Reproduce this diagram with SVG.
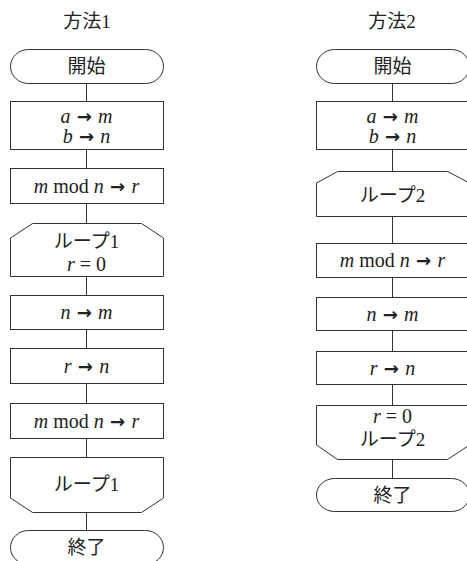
<svg xmlns="http://www.w3.org/2000/svg" width="467" height="561" viewBox="0 0 467 561">
<style>
.s{fill:#fff;stroke:#333;stroke-width:1}
.c line{stroke:#333;stroke-width:1}
text{font-family:"Liberation Serif","Noto Sans CJK JP",serif;font-size:19px;fill:#222;text-anchor:middle}
.m{font-size:20px}
.v{font-style:italic}
.a{font-family:"DejaVu Sans",sans-serif;font-size:18px;font-weight:bold}
</style>
<rect width="467" height="561" fill="#fff"/>
<g class="c" id="connectors">
<line x1="86.5" y1="84" x2="86.5" y2="101"/>
<line x1="86.5" y1="150" x2="86.5" y2="168"/>
<line x1="86.5" y1="204" x2="86.5" y2="223"/>
<line x1="86.5" y1="277" x2="86.5" y2="295"/>
<line x1="86.5" y1="330" x2="86.5" y2="348"/>
<line x1="86.5" y1="384" x2="86.5" y2="403"/>
<line x1="86.5" y1="439" x2="86.5" y2="457"/>
<line x1="86.5" y1="512" x2="86.5" y2="530"/>
<line x1="392.5" y1="84" x2="392.5" y2="101"/>
<line x1="392.5" y1="150" x2="392.5" y2="171"/>
<line x1="392.5" y1="217" x2="392.5" y2="243"/>
<line x1="392.5" y1="278" x2="392.5" y2="297"/>
<line x1="392.5" y1="331" x2="392.5" y2="351"/>
<line x1="392.5" y1="385" x2="392.5" y2="405"/>
<line x1="392.5" y1="460" x2="392.5" y2="478"/>
</g>
<g id="title1"><text x="87" y="28">方法1</text></g>
<g id="title2"><text x="392" y="28">方法2</text></g>

<g id="L_start"><rect class="s" x="10.5" y="49.5" width="153" height="34" rx="18" ry="17"/><text x="86.5" y="73">開始</text></g>
<g id="L_init"><rect class="s" x="10.5" y="101.5" width="153" height="48"/>
<text class="m" x="86.5" y="123"><tspan class="v">a</tspan><tspan class="a"> → </tspan><tspan class="v">m</tspan></text>
<text class="m" x="86.5" y="143"><tspan class="v">b</tspan><tspan class="a"> → </tspan><tspan class="v">n</tspan></text></g>
<g id="L_mod1"><rect class="s" x="10.5" y="168.5" width="153" height="35"/>
<text class="m" x="86.5" y="193"><tspan class="v">m</tspan> mod <tspan class="v">n</tspan><tspan class="a"> → </tspan><tspan class="v">r</tspan></text></g>
<g id="L_loopStart"><polygon class="s" points="10.5,238 32.5,223.5 141.5,223.5 163.5,238 163.5,276.5 10.5,276.5"/>
<text x="86.5" y="248">ループ1</text>
<text class="m" x="86.5" y="271"><tspan class="v">r</tspan> = 0</text></g>
<g id="L_nm"><rect class="s" x="10.5" y="295.5" width="153" height="34"/>
<text class="m" x="86.5" y="319"><tspan class="v">n</tspan><tspan class="a"> → </tspan><tspan class="v">m</tspan></text></g>
<g id="L_rn"><rect class="s" x="10.5" y="348.5" width="153" height="35"/>
<text class="m" x="86.5" y="373"><tspan class="v">r</tspan><tspan class="a"> → </tspan><tspan class="v">n</tspan></text></g>
<g id="L_mod2"><rect class="s" x="10.5" y="403.5" width="153" height="35"/>
<text class="m" x="86.5" y="428"><tspan class="v">m</tspan> mod <tspan class="v">n</tspan><tspan class="a"> → </tspan><tspan class="v">r</tspan></text></g>
<g id="L_loopEnd"><polygon class="s" points="10.5,457.5 163.5,457.5 163.5,498 141.5,512.5 32.5,512.5 10.5,498"/>
<text x="86.5" y="491">ループ1</text></g>
<g id="L_end"><rect class="s" x="10.5" y="530.5" width="153" height="34" rx="18" ry="17"/><text x="86.5" y="554">終了</text></g>

<g id="R_start"><rect class="s" x="316.5" y="49.5" width="153" height="34" rx="18" ry="17"/><text x="392.5" y="73">開始</text></g>
<g id="R_init"><rect class="s" x="316.5" y="101.5" width="153" height="48"/>
<text class="m" x="392.5" y="123"><tspan class="v">a</tspan><tspan class="a"> → </tspan><tspan class="v">m</tspan></text>
<text class="m" x="392.5" y="143"><tspan class="v">b</tspan><tspan class="a"> → </tspan><tspan class="v">n</tspan></text></g>
<g id="R_loopStart"><polygon class="s" points="316.5,183 337.5,171.5 447.5,171.5 469.5,183 469.5,216.5 316.5,216.5"/>
<text x="392.5" y="202">ループ2</text></g>
<g id="R_mod"><rect class="s" x="316.5" y="243.5" width="153" height="34"/>
<text class="m" x="392.5" y="267"><tspan class="v">m</tspan> mod <tspan class="v">n</tspan><tspan class="a"> → </tspan><tspan class="v">r</tspan></text></g>
<g id="R_nm"><rect class="s" x="316.5" y="297.5" width="153" height="33"/>
<text class="m" x="392.5" y="321"><tspan class="v">n</tspan><tspan class="a"> → </tspan><tspan class="v">m</tspan></text></g>
<g id="R_rn"><rect class="s" x="316.5" y="351.5" width="153" height="33"/>
<text class="m" x="392.5" y="375"><tspan class="v">r</tspan><tspan class="a"> → </tspan><tspan class="v">n</tspan></text></g>
<g id="R_loopEnd"><polygon class="s" points="316.5,405.5 469.5,405.5 469.5,445 447.5,459.5 337.5,459.5 316.5,445"/>
<text class="m" x="392.5" y="423"><tspan class="v">r</tspan> = 0</text>
<text x="392.5" y="446">ループ2</text></g>
<g id="R_end"><rect class="s" x="316.5" y="478.5" width="153" height="33" rx="18" ry="16.5"/><text x="392.5" y="502">終了</text></g>
</svg>
